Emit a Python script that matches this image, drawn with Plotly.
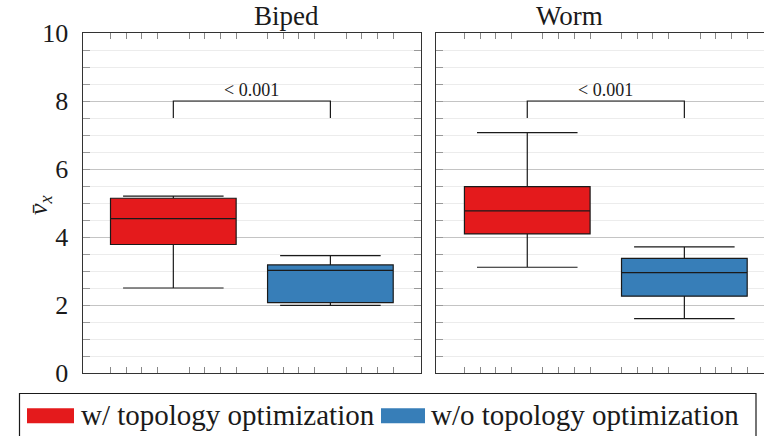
import plotly.graph_objects as go

# ---------------- data ----------------
panels = ["Biped", "Worm"]
groups = ["w/ topology optimization", "w/o topology optimization"]
colors = ["#e41a1c", "#377eb8"]
positions = [0, 1]

biped_q1 = [3.78, 2.07]
biped_median = [4.54, 3.02]
biped_q3 = [5.14, 3.18]
biped_lower = [2.50, 1.99]
biped_upper = [5.20, 3.45]

worm_q1 = [4.09, 2.26]
worm_median = [4.77, 2.95]
worm_q3 = [5.48, 3.37]
worm_lower = [3.11, 1.60]
worm_upper = [7.07, 3.71]

p_label = "&lt; 0.001"
bracket_y = [7.5, 8.0, 8.0, 7.5]
bracket_x = [0, 0, 1, 1]

y_ticks = [0, 2, 4, 6, 8, 10]
x_minor_offsets = [-0.4, -0.3, -0.2, -0.1, 0.1, 0.2, 0.3, 0.4]

# ---------------- layout helpers ----------------
W, H = 764, 436
FONT = "Times New Roman"

def px_x(p):
    return p / W

def px_y(p):
    return 1 - p / H

panel_data = [
    (biped_q1, biped_median, biped_q3, biped_lower, biped_upper),
    (worm_q1, worm_median, worm_q3, worm_lower, worm_upper),
]

fig = go.Figure()

for pi, (q1, med, q3, lo, hi) in enumerate(panel_data):
    xa = "x" if pi == 0 else "x2"
    ya = "y" if pi == 0 else "y2"
    for gi in range(2):
        fig.add_trace(go.Box(
            x=[positions[gi]], q1=[q1[gi]], median=[med[gi]], q3=[q3[gi]],
            lowerfence=[lo[gi]], upperfence=[hi[gi]],
            width=0.8, whiskerwidth=0.8,
            fillcolor=colors[gi],
            line=dict(color="#1a1a1a", width=1.2),
            boxpoints=False, showlegend=False, hoverinfo="skip",
            xaxis=xa, yaxis=ya, name=groups[gi],
        ))
    fig.add_trace(go.Scatter(
        x=bracket_x, y=bracket_y, mode="lines",
        line=dict(color="#1a1a1a", width=1.2),
        showlegend=False, hoverinfo="skip", xaxis=xa, yaxis=ya,
    ))
    fig.add_annotation(
        x=0.5, y=bracket_y[1], xref=xa, yref=ya, text=p_label,
        showarrow=False, yanchor="bottom", yshift=-1,
        font=dict(family=FONT, size=18, color="#1a1a1a"),
    )

tickvals_x = [p + o for p in positions for o in x_minor_offsets]

common_x = dict(
    tickvals=tickvals_x, ticks="inside", ticklen=6, tickcolor="#888",
    tickwidth=1, showticklabels=False, showgrid=False, zeroline=False,
    showline=True, linecolor="#333", linewidth=1.3, mirror="allticks",
    automargin=False,
)
common_y = dict(
    range=[0, 10], tickvals=y_ticks, ticks="inside", ticklen=7,
    tickcolor="#999", tickwidth=1, showgrid=True, gridcolor="#c4c4c4",
    gridwidth=1, zeroline=False, showline=True, linecolor="#333",
    linewidth=1.3, automargin=False,
    minor=dict(dtick=0.5, tick0=0, ticks="inside", ticklen=7,
               tickcolor="#999", showgrid=True, gridcolor="#ececec"),
)

ytop, ybot = 33, 373
fig.update_layout(
    width=W, height=H,
    margin=dict(l=0, r=0, t=0, b=0, pad=0, autoexpand=False),
    paper_bgcolor="white", plot_bgcolor="white",
    font=dict(family=FONT, color="#1a1a1a"),
    xaxis=dict(domain=[px_x(82.7), px_x(420.7)], range=[-0.577, 1.575], **common_x),
    xaxis2=dict(domain=[px_x(436), 1.0], range=[-0.581, 1.507], anchor="y2", **common_x),
    yaxis=dict(domain=[px_y(ybot), px_y(ytop)], anchor="x", mirror="allticks",
               showticklabels=True, ticklabelstandoff=8,
               tickfont=dict(family=FONT, size=26, color="#1a1a1a"), **common_y),
    yaxis2=dict(domain=[px_y(ybot), px_y(ytop)], anchor="x2", mirror=False,
                showticklabels=False, **common_y),
)

# panel titles
for title, cx in zip(panels, [251.7, 605]):
    fig.add_annotation(x=px_x(cx), y=px_y(16), xref="paper", yref="paper",
                       text=title, showarrow=False, yanchor="middle",
                       font=dict(family=FONT, size=27, color="#1a1a1a"))

# y-axis title
fig.add_annotation(x=px_x(22), y=px_y(205), xref="paper", yref="paper",
                   text="<i>v̄<sub>x</sub></i>", showarrow=False, textangle=-90,
                   font=dict(family=FONT, size=26, color="#1a1a1a"))

# legend (drawn box)
fig.add_shape(type="rect", xref="paper", yref="paper",
              x0=px_x(19.5), x1=px_x(756), y0=px_y(393.5), y1=px_y(445),
              line=dict(color="#1a1a1a", width=1.2), fillcolor="white")
for gi, (sx0, sx1, tx) in enumerate([(27, 74, 79), (381, 425, 429)]):
    fig.add_shape(type="rect", xref="paper", yref="paper",
                  x0=px_x(sx0), x1=px_x(sx1), y0=px_y(423.3), y1=px_y(408.3),
                  line=dict(width=0), fillcolor=colors[gi])
    fig.add_annotation(x=px_x(tx), y=px_y(415), xref="paper", yref="paper",
                       text=groups[gi], showarrow=False, xanchor="left",
                       yanchor="middle",
                       font=dict(family=FONT, size=29, color="#1a1a1a"))

fig.write_html("out.html")
